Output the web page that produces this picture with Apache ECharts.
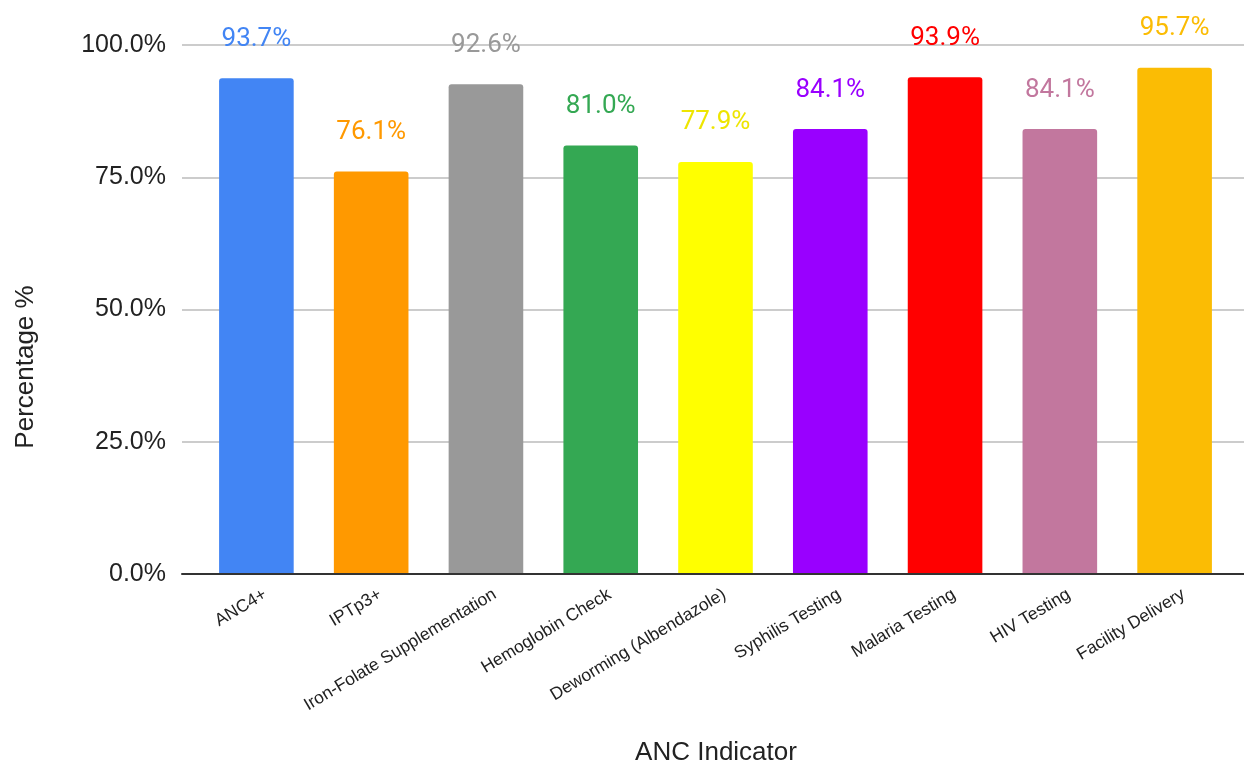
<!DOCTYPE html>
<html><head><meta charset="utf-8">
<script src="https://cdn.jsdelivr.net/npm/echarts@6/dist/echarts.min.js"></script>
<style>html,body{margin:0;padding:0;background:#fff}#c{width:1244px;height:766px}</style>
</head><body><div id="c"></div>
<script>
const categories = ["ANC4+","IPTp3+","Iron-Folate Supplementation","Hemoglobin Check","Deworming (Albendazole)","Syphilis Testing","Malaria Testing","HIV Testing","Facility Delivery"];
const values = [93.7, 76.1, 92.6, 81.0, 77.9, 84.1, 93.9, 84.1, 95.7];
const yTicks = [0, 25, 50, 75, 100];
const xTitle = "ANC Indicator";
const yTitle = "Percentage %";

const colors = ["#4285F4","#FF9900","#999999","#34A853","#FFFF00","#9900FF","#FF0000","#C2779E","#FBBC04"];
const labelColors = ["#4285F4","#FF9900","#999999","#34A853","#EEE500","#9900FF","#FF0000","#C2779E","#FBBC04"];

const chart = echarts.init(document.getElementById('c'), null, {renderer:'canvas'});
chart.setOption({
  animation:false,
  backgroundColor:'#fff',
  grid:[
    {left:182, right:0, top:45, bottom:192},
    {left:199, right:12, top:45, bottom:192},
    {left:208, right:3, top:45, bottom:192}
  ],
  xAxis:[
    {gridIndex:0, type:'category', data:[''], axisLabel:{show:false}, axisTick:{show:false},
     axisLine:{show:true, lineStyle:{color:'#333', width:2}}, z:5},
    {gridIndex:1, type:'category', data:categories, axisTick:{show:false}, axisLine:{show:false},
     axisLabel:{show:false}},
    {gridIndex:2, type:'category', data:categories, axisTick:{show:false}, axisLine:{show:false},
     axisLabel:{rotate:31, interval:0, fontFamily:'Liberation Sans, Arial', fontSize:17.5, color:'#222', margin:19}}
  ],
  yAxis:[
    {gridIndex:0, type:'value', min:yTicks[0], max:yTicks[yTicks.length-1], interval:yTicks[1]-yTicks[0],
     axisLine:{show:false}, axisTick:{show:false},
     splitLine:{lineStyle:{color:'#cccccc', width:2}},
     axisLabel:{formatter:v=>v.toFixed(1)+'%', fontFamily:'Liberation Sans, Arial', fontSize:25, color:'#222', margin:16}},
    {gridIndex:1, type:'value', min:yTicks[0], max:yTicks[yTicks.length-1], show:false, splitLine:{show:false}},
    {gridIndex:2, type:'value', min:yTicks[0], max:yTicks[yTicks.length-1], show:false, splitLine:{show:false}}
  ],
  graphic:[
    {type:'text', x:716, y:740, style:{text:xTitle, font:'26px "Liberation Sans", Arial', fill:'#222', align:'center', verticalAlign:'top'}},
    {type:'text', x:13, y:367, rotation:Math.PI/2, style:{text:yTitle, font:'26px "Liberation Sans", Arial', fill:'#222', align:'center', verticalAlign:'top'}}
  ],
  series:[{
    type:'bar', xAxisIndex:1, yAxisIndex:1, barWidth:'65%',
    data: values.map((v,i)=>({value:v, itemStyle:{color:colors[i], borderRadius:[3,3,0,0]},
      label:{color:labelColors[i]}})),
    label:{show:true, position:'top', distance:26, fontFamily:'Roboto', fontSize:26,
      formatter:p=>p.value.toFixed(1)+'%'},
    z:3
  }]
});
</script></body></html>
